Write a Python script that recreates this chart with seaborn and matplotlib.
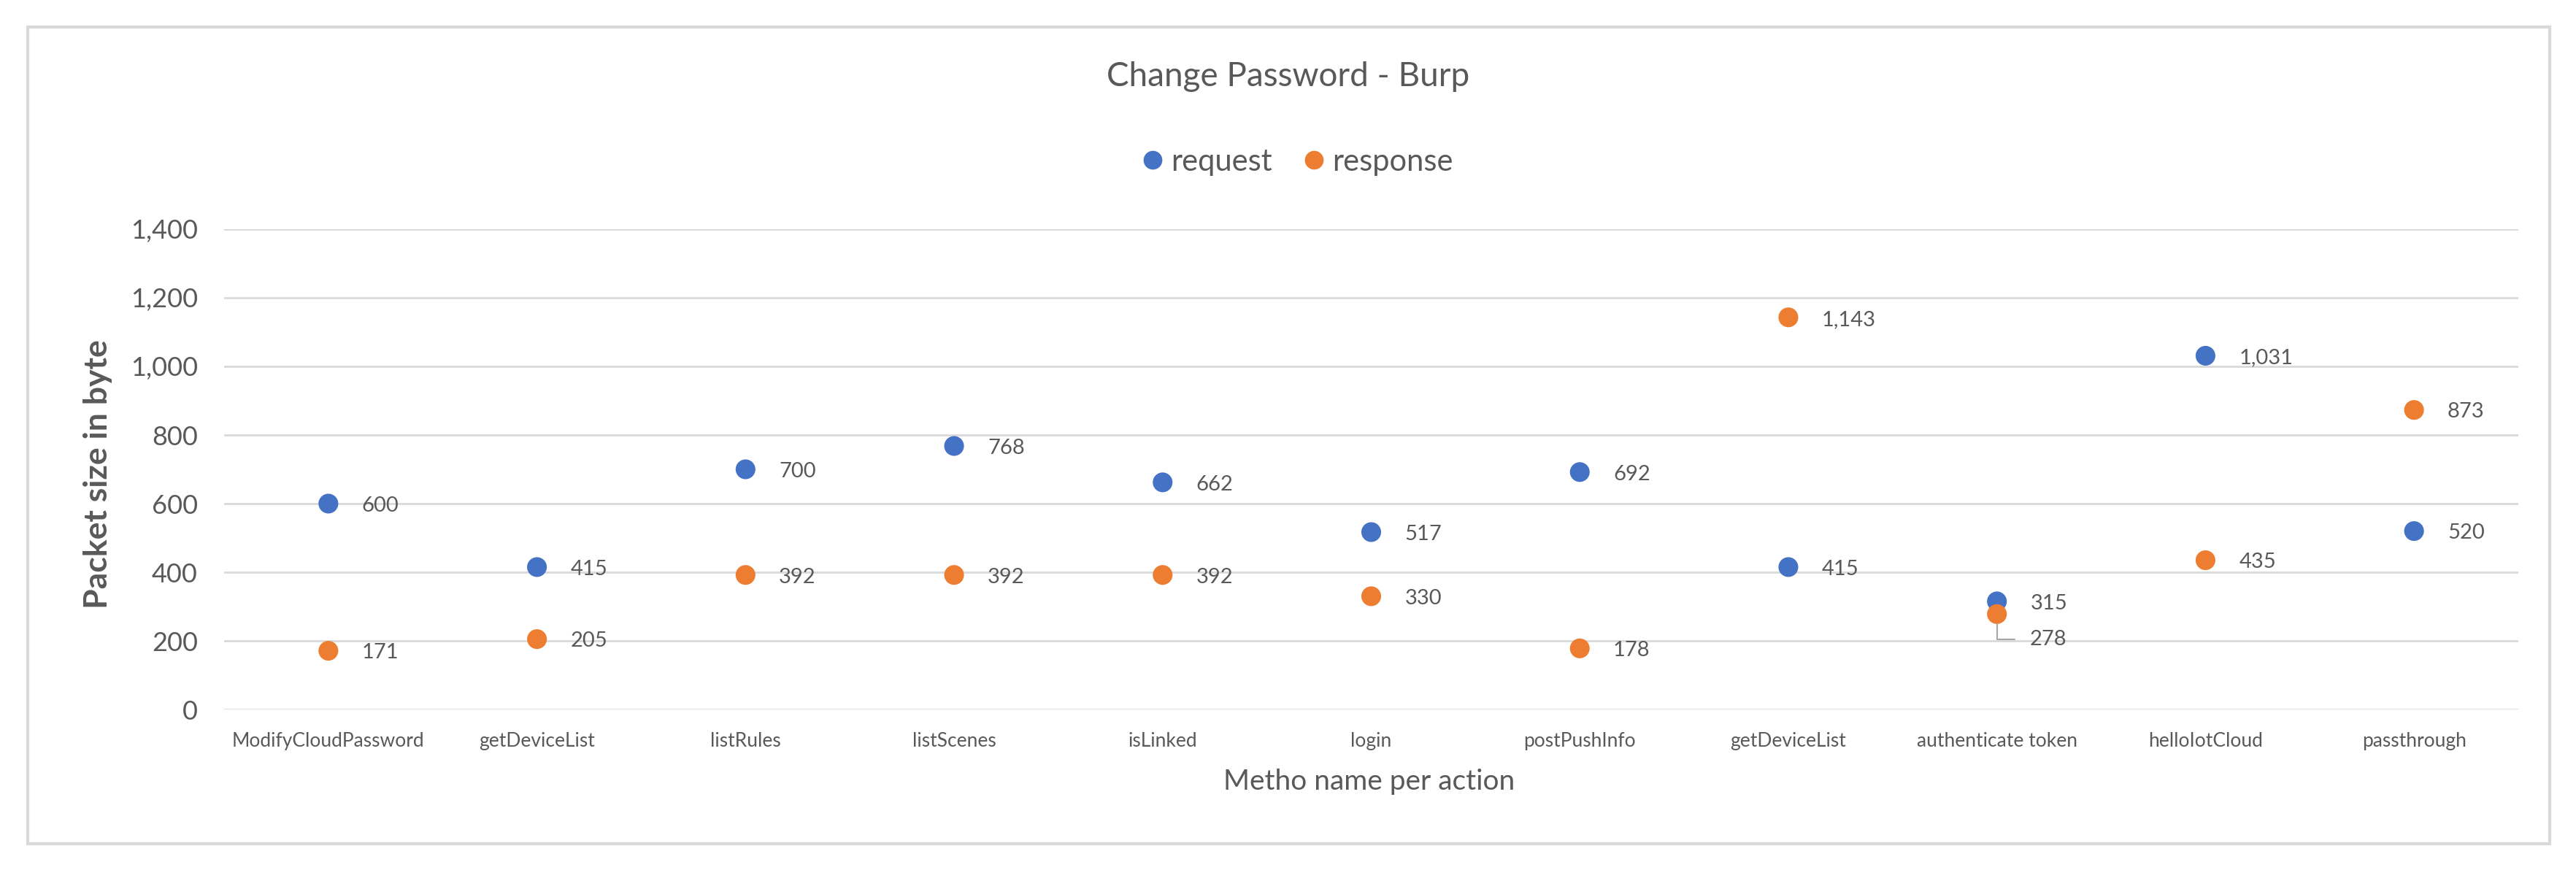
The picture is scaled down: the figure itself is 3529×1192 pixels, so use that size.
import matplotlib
matplotlib.use("Agg")
import matplotlib.pyplot as plt
from matplotlib.patches import Rectangle
from matplotlib.ticker import FuncFormatter
import seaborn as sns
import pandas as pd

# ---- data ----
methods = ["ModifyCloudPassword", "getDeviceList", "listRules", "listScenes", "isLinked",
           "login", "postPushInfo", "getDeviceList", "authenticate token", "helloIotCloud",
           "passthrough"]
request = [600, 415, 700, 768, 662, 517, 692, 415, 315, 1031, 520]
response = [171, 205, 392, 392, 392, 330, 178, 1143, 278, 435, 873]
series_names = ["request", "response"]
y_ticks = [0, 200, 400, 600, 800, 1000, 1200, 1400]

title_text = "Change Password - Burp"
x_label = "Metho name per action"
y_label = "Packet size in byte"

# ---- build long table ----
pos = list(range(len(methods)))
df = pd.DataFrame({
    "pos": pos + pos,
    "value": request + response,
    "series": [series_names[0]] * len(request) + [series_names[1]] * len(response),
})

sns.set_theme(style="white")
plt.rcParams["font.family"] = ["Lato", "DejaVu Sans"]
TXT = "#595959"

W, H = 3529, 1192
fig = plt.figure(figsize=(W / 100, H / 100), dpi=100)
fig.patch.set_facecolor("white")

# axes placement (pixels -> fig coords)
L, R, T, B = 307, 3450, 314, 972
ax = fig.add_axes([L / W, (H - B) / H, (R - L) / W, (B - T) / H])

palette = {"request": "#4472C4", "response": "#ED7D31"}
sns.scatterplot(data=df, x="pos", y="value", hue="series", hue_order=series_names,
                palette=palette, s=380, linewidth=0, ax=ax, zorder=3)

ax.set_xlim(-0.5, len(methods) - 0.5)
ax.set_ylim(0, 1400)
ax.set_yticks(y_ticks)
ax.yaxis.set_major_formatter(FuncFormatter(lambda v, p: f"{v:,.0f}"))
ax.set_xticks(pos)
ax.set_xticklabels(methods)
ax.tick_params(axis="x", length=0, pad=22, labelsize=19, labelcolor=TXT)
ax.tick_params(axis="y", length=0, pad=26, labelsize=26, labelcolor=TXT)
ax.grid(axis="y", color="#D9D9D9", linewidth=2)
ax.grid(axis="x", visible=False)
for s in ax.spines.values():
    s.set_visible(False)
ax.set_axisbelow(True)

ax.set_xlabel(x_label, fontsize=28, color=TXT, va="center")
ax.xaxis.set_label_coords(0.499, -0.150)
ax.set_ylabel(y_label, fontsize=32, color=TXT, fontweight="bold", va="center")
ax.yaxis.set_label_coords(-0.055, 0.49)

# data labels
for i in pos:
    for vals in (request, response):
        v = vals[i]
        if vals is response and methods[i] == "authenticate token":
            ax.annotate(f"{v:,}", xy=(i, v), xytext=(32, -25), textcoords="offset points",
                        ha="left", va="center", fontsize=21, color=TXT,
                        arrowprops=dict(arrowstyle="-", color="#A6A6A6", lw=1.5,
                                        connectionstyle="angle,angleA=0,angleB=90",
                                        relpos=(0, 0.5), shrinkA=12, shrinkB=10))
        else:
            ax.annotate(f"{v:,}", xy=(i, v), xytext=(33, -2), textcoords="offset points",
                        ha="left", va="center", fontsize=21, color=TXT)

# legend
sns.move_legend(ax, "center", bbox_to_anchor=(0.468, 1.14), ncol=2, frameon=False,
                title=None, fontsize=30, markerscale=0.95, handlelength=0.65,
                handletextpad=0.28, columnspacing=1.05)
for t in ax.get_legend().get_texts():
    t.set_color(TXT)

# title
fig.text(0.500, 0.912, title_text, ha="center", va="center", fontsize=33, color=TXT)

# outer border
fig.patches.append(Rectangle((38 / W, (H - 1156) / H), (3493 - 38) / W, (1156 - 37) / H,
                             transform=fig.transFigure, fill=False,
                             edgecolor="#D9D9D9", linewidth=3))

fig.savefig("out.png", dpi=100, facecolor="white")
